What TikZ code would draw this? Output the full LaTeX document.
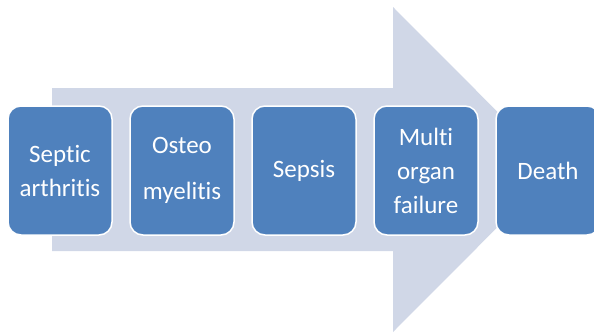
\documentclass[tikz,border=0pt]{standalone}
\usepackage{fontspec}
\setmainfont[Ligatures={NoCommon}]{Carlito}
\definecolor{boxblue}{RGB}{79,129,189}
\definecolor{arrowgrey}{RGB}{208,215,231}
\tikzset{
    stage/.style={draw=white, line width=1.5pt, fill=boxblue, rounded corners=13pt,
        minimum width=104pt, minimum height=129pt, text=white, align=center,
        font=\fontsize{25}{34}\selectfont, inner sep=0pt},
}
\begin{document}
\begin{tikzpicture}[x=1pt, y=-1pt]
        \useasboundingbox (0, 0) rectangle (594, 332);
        \fill [arrowgrey] (52, 88) -- (393, 88) -- (393, 7) -- (555, 169.5)
            -- (393, 332) -- (393, 251) -- (52, 251) -- cycle;
        \node [stage] (septic) at (60, 170.5) {Septic\\arthritis};
        \node [stage] (osteo) at (182, 170.5) {Osteo\\[12pt]myelitis};
        \node [stage] (sepsis) at (304, 170.5) {Sepsis};
        \node [stage] (failure) at (426, 170.5) {Multi\\organ\\failure};
        \node [stage] (death) at (548, 170.5) {Death};
    \end{tikzpicture}
\end{document}
